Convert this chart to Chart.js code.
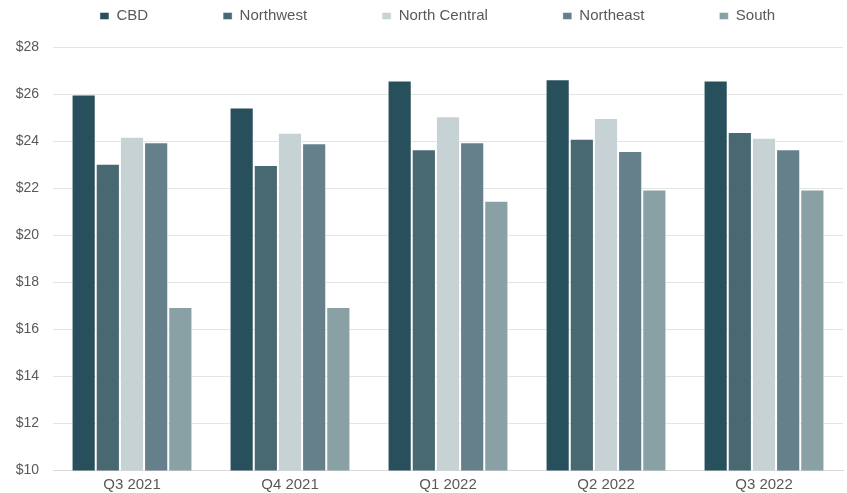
<!DOCTYPE html>
<html><head><meta charset="utf-8">
<script src="https://cdn.jsdelivr.net/npm/chart.js@4.4.1/dist/chart.umd.min.js"></script>
<style>html,body{margin:0;padding:0;background:#fff;overflow:hidden}#wrap{width:847px;height:493px;position:relative}</style>
</head><body><div id="wrap"><canvas id="c" width="847" height="493"></canvas></div>
<script>
const categories = ['Q3 2021', 'Q4 2021', 'Q1 2022', 'Q2 2022', 'Q3 2022'];
const seriesNames = ['CBD', 'Northwest', 'North Central', 'Northeast', 'South'];
const cbd = [26.0, 25.45, 26.6, 26.65, 26.6];
const northwest = [23.05, 23.0, 23.67, 24.12, 24.4];
const northCentral = [24.2, 24.37, 25.08, 25.0, 24.16];
const northeast = [23.97, 23.93, 23.97, 23.6, 23.67];
const south = [16.96, 16.96, 21.48, 21.96, 21.96];
const yMin = 10, yMax = 28, yStep = 2;
const colors = ['#284f5c', '#486872', '#c7d2d5', '#65808a', '#89a0a5'];

const FONT = "'Liberation Sans', Arial, Helvetica, sans-serif";
const LEG_PAD = 75, LAYOUT_TOP = -66.5, LEG_H = 114, LEG_SHIFT = 16;

const legendFix = {
  id: 'legendFix',
  beforeUpdate(chart) {
    const lg = chart.legend;
    if (lg && !lg._patched) {
      const f = lg.fit;
      lg.fit = function () { f.call(this); this.height = LEG_H; };
      lg._patched = true;
    }
  },
  afterLayout(chart) {
    const lg = chart.legend;
    if (lg) { lg.left += LEG_SHIFT; lg.right += LEG_SHIFT; }
  }
};

const values = [cbd, northwest, northCentral, northeast, south];
new Chart(document.getElementById('c'), {
  type: 'bar',
  data: {
    labels: categories,
    datasets: seriesNames.map((n, i) => ({
      label: n,
      data: values[i],
      backgroundColor: colors[i],
      borderColor: 'rgba(255,255,255,0.45)',
      borderWidth: 1,
      categoryPercentage: 0.765,
      barPercentage: 1.0
    }))
  },
  options: {
    responsive: false,
    animation: false,
    layout: { padding: { top: LAYOUT_TOP, right: 4, left: 0, bottom: 0 } },
    plugins: {
      legend: {
        position: 'top',
        labels: {
          boxWidth: 9, boxHeight: 7, padding: LEG_PAD,
          color: '#595959',
          font: { family: FONT, size: 15 }
        }
      },
      tooltip: { enabled: false }
    },
    scales: {
      x: {
        grid: { display: false, drawTicks: false },
        border: { display: true, color: '#d9d9d9', width: 1 },
        ticks: { color: '#595959', font: { family: FONT, size: 15 }, padding: 5 },
        afterFit(s) { s.height = 22; }
      },
      y: {
        min: yMin, max: yMax,
        ticks: {
          stepSize: yStep, color: '#595959', padding: 14,
          font: { family: FONT, size: 14 },
          callback: v => '$' + v
        },
        grid: { color: '#e4e4e4', lineWidth: 1, drawTicks: false },
        border: { display: false },
        afterFit(s) { s.width = 53; }
      }
    }
  },
  plugins: [legendFix]
});
</script></body></html>
